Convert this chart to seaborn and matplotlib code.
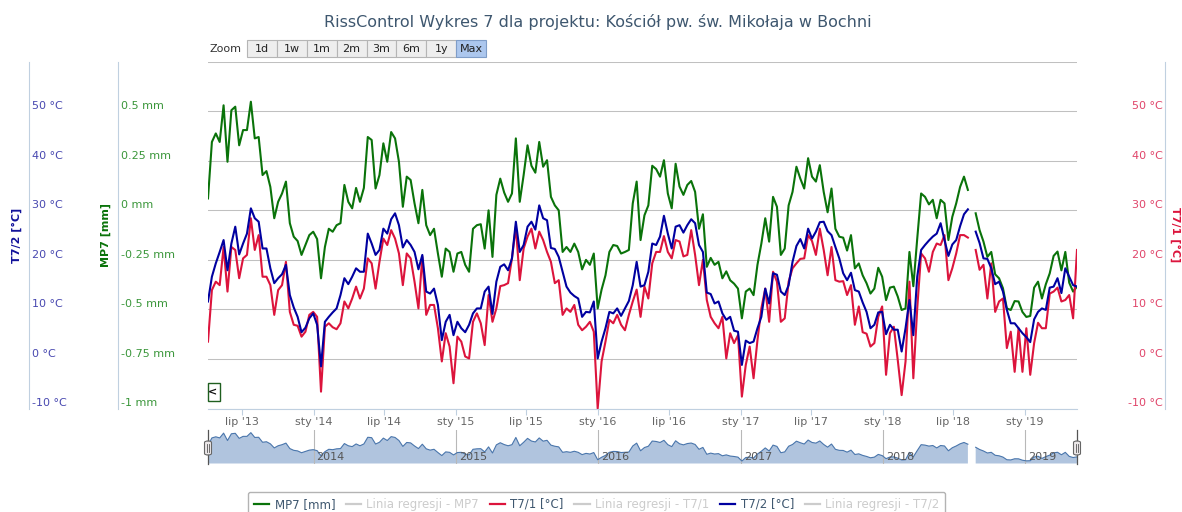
import numpy as np
import pandas as pd
import matplotlib
matplotlib.use("Agg")
import matplotlib.pyplot as plt
import matplotlib.transforms as mtransforms
from matplotlib.patches import Rectangle, FancyBboxPatch
from matplotlib.lines import Line2D
import seaborn as sns

plt.rcParams["font.family"] = ["DejaVu Sans"]

# series sampled every 10 days from 2013-04-05, one missing sample (gap in summer 2018)
start_date = "2013-04-05"
step_days = 10
gap_index = 196

mp7_mm = [
    0.060, 0.345, 0.388, 0.345, 0.530, 0.245, 0.505, 0.523, 0.328, 0.405,
    0.405, 0.548, 0.363, 0.370, 0.178, 0.198, 0.118, -0.040, 0.043, 0.085,
    0.145, -0.065, -0.133, -0.155, -0.225, -0.175, -0.125, -0.108, -0.145, -0.343,
    -0.185, -0.093, -0.108, -0.075, -0.065, 0.128, 0.043, 0.010,
    0.113, 0.043, 0.113, 0.370, 0.355, 0.110, 0.178, 0.338, 0.245, 0.395,
    0.363, 0.245, 0.018, 0.170, 0.153, 0.035, -0.065, 0.103, -0.075, -0.125,
    -0.093, -0.218, -0.335, -0.193, -0.210, -0.310, -0.218, -0.210, -0.275, -0.310,
    -0.093, -0.075, -0.070, -0.193, 0.000, -0.235, 0.078,
    0.160, 0.090, 0.043, 0.085, 0.363, 0.043, 0.178, 0.328, 0.225, 0.190,
    0.345, 0.220, 0.253, 0.068, 0.025, 0.000, -0.210, -0.185, -0.210, -0.168,
    -0.210, -0.298, -0.250, -0.275, -0.218, -0.495, -0.400, -0.328, -0.210, -0.175,
    -0.180, -0.218, -0.210, -0.200, 0.035, 0.145, -0.150,
    -0.025, 0.025, 0.225, 0.208, 0.170, 0.253, 0.085, 0.010, 0.235, 0.120,
    0.078, 0.128, 0.148, 0.093, -0.093, -0.020, -0.285, -0.240, -0.275, -0.260,
    -0.343, -0.308, -0.353, -0.370, -0.395, -0.545, -0.410, -0.395, -0.428, -0.275,
    -0.168, -0.040, -0.158, 0.068, 0.018, -0.225, -0.193,
    0.025, 0.093, 0.220, 0.160, 0.110, 0.263, 0.170, 0.145, 0.228, 0.093,
    -0.010, 0.110, -0.093, -0.133, -0.138, -0.203, -0.125, -0.293, -0.268, -0.328,
    -0.368, -0.420, -0.395, -0.290, -0.335, -0.453, -0.390, -0.385, -0.435, -0.503,
    -0.495, -0.210, -0.383, -0.143, 0.085, 0.068, 0.030,
    0.053, -0.040, 0.053, 0.035, -0.150, -0.033, 0.035, 0.118, 0.170, 0.103,
    np.nan, -0.015, -0.100, -0.158, -0.235, -0.210, -0.323, -0.343, -0.393, -0.495,
    -0.503, -0.458, -0.460, -0.513, -0.538, -0.533, -0.390, -0.360, -0.445, -0.373,
    -0.318, -0.230, -0.208, -0.303, -0.210, -0.365, -0.410, -0.385,
]

t71_c = [
    3.5, 13.9, 15.6, 14.9, 22.6, 13.6, 22.6, 22.0, 16.3, 20.3,
    21.0, 28.4, 22.0, 25.0, 16.6, 16.6, 14.9, 8.9, 13.9, 14.9,
    19.6, 9.5, 6.9, 6.7, 4.5, 5.5, 8.9, 9.5, 8.5, -6.6,
    6.5, 7.2, 6.4, 6.0, 7.2, 11.6, 10.2, 12.2,
    14.6, 12.2, 14.2, 20.3, 19.3, 14.2, 19.6, 24.3, 23.0, 26.0,
    24.3, 21.3, 14.9, 21.3, 20.3, 15.6, 10.2, 20.6, 8.9, 10.9,
    10.9, 6.2, -0.5, 5.2, 2.5, -4.9, 4.5, 3.5, 0.5, 0.1,
    7.5, 9.2, 7.2, 2.8, 12.9, 7.5, 10.2,
    14.7, 14.9, 15.3, 20.3, 26.7, 15.9, 22.3, 24.7, 26.3, 22.3,
    25.7, 24.0, 21.6, 19.6, 15.3, 15.9, 8.9, 10.2, 9.5, 10.9,
    6.9, 5.8, 6.5, 7.5, 5.5, -10.0, -0.5, 3.5, 7.9, 7.2,
    8.9, 6.9, 5.8, 8.9, 11.6, 14.0, 8.5,
    14.6, 12.2, 19.3, 21.6, 21.6, 24.8, 21.6, 20.3, 24.0, 23.7,
    20.7, 21.0, 26.0, 21.0, 14.9, 20.0, 11.9, 8.5, 7.2, 6.2,
    8.5, 0.1, 5.2, 3.2, 4.8, -7.6, -1.2, 2.5, -3.9, 3.8,
    10.2, 14.2, 7.5, 17.6, 15.6, 7.5, 8.2,
    15.6, 18.3, 19.3, 20.2, 20.3, 25.0, 23.8, 21.0, 26.3, 22.0,
    16.9, 22.6, 15.9, 15.6, 15.7, 12.9, 14.9, 6.9, 10.6, 5.4,
    5.1, 2.5, 3.2, 8.5, 10.6, -3.2, 5.2, 6.5, -0.2, -7.3,
    -0.5, 15.6, -3.9, 10.2, 21.3, 20.3, 17.6,
    21.6, 23.3, 23.0, 25.0, 15.9, 18.3, 21.3, 25.0, 25.0, 24.5,
    np.nan, 22.0, 18.0, 19.0, 12.2, 19.3, 9.5, 11.6, 12.2, 2.2,
    5.5, -2.6, 6.2, -2.6, 6.2, -3.2, 3.2, 7.3, 6.2, 6.2,
    13.2, 13.6, 14.4, 11.6, 11.9, 12.9, 8.2, 22.0,
]

t72_c = [
    11.6, 16.6, 19.3, 21.6, 24.0, 17.9, 23.3, 26.7, 21.1, 23.3,
    25.3, 30.4, 28.4, 27.7, 22.3, 22.3, 18.3, 15.3, 16.3, 17.1,
    19.0, 12.9, 10.4, 8.5, 5.4, 6.3, 8.2, 9.2, 6.9, -1.5,
    7.5, 8.5, 9.4, 10.2, 12.9, 16.3, 15.1, 16.6,
    18.3, 17.6, 17.6, 25.3, 23.3, 21.0, 22.0, 26.3, 25.3, 28.2,
    29.4, 27.0, 22.5, 24.0, 23.0, 21.6, 18.1, 21.0, 13.6, 13.2,
    14.2, 10.9, 3.8, 7.5, 8.9, 4.8, 7.5, 6.2, 5.4, 6.9,
    9.2, 10.2, 10.2, 13.6, 14.6, 9.1, 15.6,
    18.6, 19.1, 17.9, 20.3, 27.7, 21.6, 23.0, 26.7, 27.7, 26.1,
    31.0, 28.4, 28.0, 22.4, 22.2, 20.6, 17.6, 14.6, 13.4, 12.7,
    12.2, 8.5, 9.5, 9.4, 11.6, 0.1, 3.5, 6.2, 9.5, 9.2,
    10.2, 8.7, 10.2, 11.7, 14.9, 19.6, 14.6,
    14.9, 17.6, 23.3, 23.0, 24.7, 28.9, 25.3, 22.3, 26.7, 27.0,
    25.5, 27.0, 28.2, 27.4, 23.0, 21.6, 13.4, 13.1, 11.2, 11.6,
    9.2, 7.9, 8.5, 5.7, 5.5, -1.2, 3.7, 3.2, 3.5, 6.2,
    8.5, 14.2, 11.2, 17.3, 17.0, 13.6, 12.9,
    14.9, 19.6, 22.8, 24.2, 22.3, 26.3, 24.3, 25.7, 27.6, 27.7,
    25.8, 25.0, 22.6, 20.3, 17.3, 15.9, 17.4, 13.9, 13.6, 11.4,
    9.5, 6.2, 6.9, 9.4, 9.5, 5.0, 6.9, 5.9, 5.9, 1.5,
    6.2, 11.9, 4.8, 16.6, 22.0, 23.0, 23.9,
    24.7, 25.3, 27.4, 24.0, 20.8, 23.1, 24.0, 26.8, 29.2, 30.2,
    np.nan, 25.7, 23.4, 20.3, 20.2, 18.3, 15.1, 15.6, 13.6, 9.9,
    7.2, 7.2, 6.2, 5.2, 4.4, 3.4, 8.0, 9.5, 10.2, 9.9,
    14.4, 14.6, 16.3, 13.3, 18.3, 16.6, 14.9, 14.6,
]

tick_dates = ["2013-07-01", "2014-01-01", "2014-07-01", "2015-01-01", "2015-07-01",
              "2016-01-01", "2016-07-01", "2017-01-01", "2017-07-01", "2018-01-01",
              "2018-07-01", "2019-01-01"]
tick_labels = ["lip '13", "sty '14", "lip '14", "sty '15", "lip '15", "sty '16",
               "lip '16", "sty '17", "lip '17", "sty '18", "lip '18", "sty '19"]
nav_years = ["2014", "2015", "2016", "2017", "2018", "2019"]

mm_ticks = [-1, -0.75, -0.5, -0.25, 0, 0.25, 0.5, 0.75]
mm_labels = ["-1 mm", "-0.75 mm", "-0.5 mm", "-0.25 mm", "0 mm", "0.25 mm", "0.5 mm", ""]
deg_ticks = [-10, 0, 10, 20, 30, 40, 50, 60]
deg_labels = ["-10 °C", "0 °C", "10 °C", "20 °C", "30 °C", "40 °C", "50 °C", ""]

zoom_buttons = ["1d", "1w", "1m", "2m", "3m", "6m", "1y", "Max"]
legend_names = ["MP7 [mm]", "Linia regresji - MP7", "T7/1 [°C]",
                "Linia regresji - T7/1", "T7/2 [°C]", "Linia regresji - T7/2"]
title = "RissControl Wykres 7 dla projektu: Kościół pw. św. Mikołaja w Bochni"

C_MP7 = "#0a730a"
C_T71 = "#dc143c"
C_T72 = "#0000a0"
C_AXIS = "#c0d0e0"
C_GRID = "#c0c0c0"

dates = pd.date_range(start_date, periods=len(mp7_mm), freq=f"{step_days}D")
full = pd.DataFrame({"date": dates, "mp7": mp7_mm, "t71": t71_c, "t72": t72_c})
full["seg"] = (np.arange(len(full)) > gap_index).astype(int)
lines = full.dropna()

W, H = 1182, 512
fig = plt.figure(figsize=(W / 100, H / 100), dpi=100)


def fx(px):
    return px / W


def fy(py):
    return 1 - py / H


L, R, T, B = 208, 1077, 61.7, 408.5
PW = R - L
ax_mp = fig.add_axes([fx(L), fy(B), PW / W, (B - T) / H])
ax_t1 = ax_mp.twinx()
ax_t2 = ax_mp.twinx()

line_kw = dict(x="date", units="seg", estimator=None, lw=1.5, legend=False)
sns.lineplot(data=lines, y="mp7", color=C_MP7, ax=ax_mp, **line_kw)
sns.lineplot(data=lines, y="t71", color=C_T71, ax=ax_t1, **line_kw)
sns.lineplot(data=lines, y="t72", color=C_T72, ax=ax_t2, **line_kw)

ax_mp.set_xlim(dates[0], dates[-1])
ax_mp.set_ylim(-1, 0.75)
ax_t1.set_ylim(-10, 60)
ax_t2.set_ylim(-10, 60)

# MP7 axis (inner left)
ax_mp.yaxis.tick_right()
ax_mp.set_yticks(mm_ticks)
ax_mp.set_yticklabels(mm_labels)
ax_mp.grid(axis="y", color=C_GRID, lw=0.75)
ax_mp.set_axisbelow(True)
for s in ["top", "left"]:
    ax_mp.spines[s].set_visible(False)
ax_mp.spines["right"].set_position(("axes", (118.3 - L) / PW))
ax_mp.spines["right"].set_color(C_AXIS)
ax_mp.spines["bottom"].set_color(C_AXIS)
ax_mp.tick_params(axis="y", length=0, pad=2, labelsize=8, labelcolor="#3a963a")
plt.setp(ax_mp.get_yticklabels(), va="bottom")
ax_mp.set_ylabel("MP7 [mm]", fontsize=8, fontweight="bold", color=C_MP7,
                 rotation=90, va="center", ha="center")
ax_mp.yaxis.set_label_coords((106 - L) / PW, 0.5)

# x axis
ax_mp.set_xticks(pd.to_datetime(tick_dates))
ax_mp.set_xticklabels(tick_labels)
ax_mp.tick_params(axis="x", length=4, color=C_AXIS, labelsize=8,
                  labelcolor="#666666", pad=2)
ax_mp.set_xlabel("")

# T7/2 axis (outer left)
ax_t2.set_yticks(deg_ticks)
ax_t2.set_yticklabels(deg_labels)
for s in ["top", "bottom", "left"]:
    ax_t2.spines[s].set_visible(False)
ax_t2.spines["right"].set_position(("axes", (29.3 - L) / PW))
ax_t2.spines["right"].set_color(C_AXIS)
ax_t2.tick_params(axis="y", length=0, pad=2, labelsize=8, labelcolor="#4848b0")
plt.setp(ax_t2.get_yticklabels(), va="bottom")
ax_t2.set_ylabel("T7/2 [°C]", fontsize=8, fontweight="bold", color="#12129a",
                 rotation=90, va="center", ha="center")
ax_t2.yaxis.set_label_coords((17.3 - L) / PW, 0.5)

# T7/1 axis (right)
ax_t1.yaxis.tick_left()
ax_t1.set_yticks(deg_ticks)
ax_t1.set_yticklabels(deg_labels)
for s in ["top", "bottom", "right"]:
    ax_t1.spines[s].set_visible(False)
ax_t1.spines["left"].set_visible(True)
ax_t1.spines["left"].set_position(("axes", (1165.3 - L) / PW))
ax_t1.spines["left"].set_color(C_AXIS)
ax_t1.tick_params(axis="y", length=0, pad=1.5, labelsize=8, labelcolor="#e0456a")
plt.setp(ax_t1.get_yticklabels(), va="bottom")
ax_t1.set_ylabel("T7/1 [°C]", fontsize=8, fontweight="bold", color=C_T71,
                 rotation=270, va="center", ha="center")
ax_t1.yaxis.set_label_coords((1175.5 - L) / PW, 0.5)

# navigator
NT, NB = 430, 463.5
ax_nav = fig.add_axes([fx(L), fy(NB), PW / W, (NB - NT) / H])
ax_nav.fill_between(full["date"], full["mp7"], -0.64, color="#b0c4de", lw=0)
sns.lineplot(data=lines, x="date", y="mp7", units="seg", estimator=None,
             color="#4a76ac", lw=0.8, legend=False, ax=ax_nav)
ax_nav.set_xlim(dates[0], dates[-1])
ax_nav.set_ylim(-0.64, 0.65)
year_dates = pd.to_datetime([f"{y}-01-01" for y in nav_years])
ax_nav.set_xticks(year_dates)
ax_nav.set_yticks([])
ax_nav.tick_params(axis="x", length=0, labelbottom=False)
ax_nav.grid(axis="x", color="#b8b8b8", lw=0.8)
ax_nav.set_xlabel("")
ax_nav.set_ylabel("")
for s in ax_nav.spines.values():
    s.set_visible(False)
ax_nav.patch.set_visible(False)
lab_tr = mtransforms.offset_copy(ax_nav.get_xaxis_transform(), fig=fig, x=3, y=0, units="dots")
for d, lab in zip(year_dates, nav_years):
    ax_nav.text(d, 0.18, lab, transform=lab_tr, ha="left", va="center",
                fontsize=8, color="#555555")
for d in [dates[0], dates[-1]]:
    ax_nav.axvline(d, color="#555555", lw=0.9, clip_on=False)

for hx in [L, R]:
    fig.add_artist(FancyBboxPatch((fx(hx - 3.5), fy(455)), 7 / W, 14 / H,
                                  boxstyle="round,pad=0,rounding_size=0.003",
                                  transform=fig.transFigure, fc="#ebe7e8", ec="#666666", lw=0.8))
    for dx in (-1.2, 1.2):
        fig.add_artist(Line2D([fx(hx + dx)] * 2, [fy(452), fy(444)],
                              transform=fig.transFigure, color="#555555", lw=0.6))

# small clipped box at lower left of the plot
fig.add_artist(Rectangle((fx(208), fy(401)), 12 / W, 18 / H, transform=fig.transFigure,
                         fc="white", ec="#1f5f1f", lw=1))
fig.text(fx(212.5), fy(392), "<", ha="center", va="center", fontsize=8,
         fontweight="bold", color="#111111")

# title and range selector
fig.text(fx(598), fy(22), title, ha="center", va="center", fontsize=11.5, color="#3e576f")
fig.text(fx(209), fy(48.5), "Zoom", ha="left", va="center", fontsize=8, color="#333333")
bw = (486 - 247) / len(zoom_buttons)
for k, lab in enumerate(zoom_buttons):
    x0 = 247 + k * bw
    sel = lab == "Max"
    fig.add_artist(Rectangle((fx(x0), fy(57)), bw / W, 17 / H, transform=fig.transFigure,
                             fc="#acc7ee" if sel else "#eeeeee",
                             ec="#7f9dc8" if sel else "#b5b5b5", lw=0.8))
    fig.text(fx(x0 + bw / 2), fy(48.5), lab, ha="center", va="center", fontsize=8,
             color="#222222")

# legend
leg_colors = [C_MP7, "#cccccc", C_T71, "#cccccc", C_T72, "#cccccc"]
handles = [Line2D([], [], color=c, lw=1.6) for c in leg_colors]
leg = fig.legend(handles, legend_names, loc="upper left", bbox_to_anchor=(fx(248), fy(492)),
                 ncol=6, fontsize=8.5, frameon=True, fancybox=True, edgecolor="#a0a0a0",
                 handlelength=1.3, handletextpad=0.45, columnspacing=0.9,
                 borderaxespad=0, borderpad=0.5)
leg.get_frame().set_linewidth(1.0)
for txt, c in zip(leg.get_texts(), ["#3e576f", "#cccccc"] * 3):
    txt.set_color(c)

fig.savefig("out.png", dpi=100)
